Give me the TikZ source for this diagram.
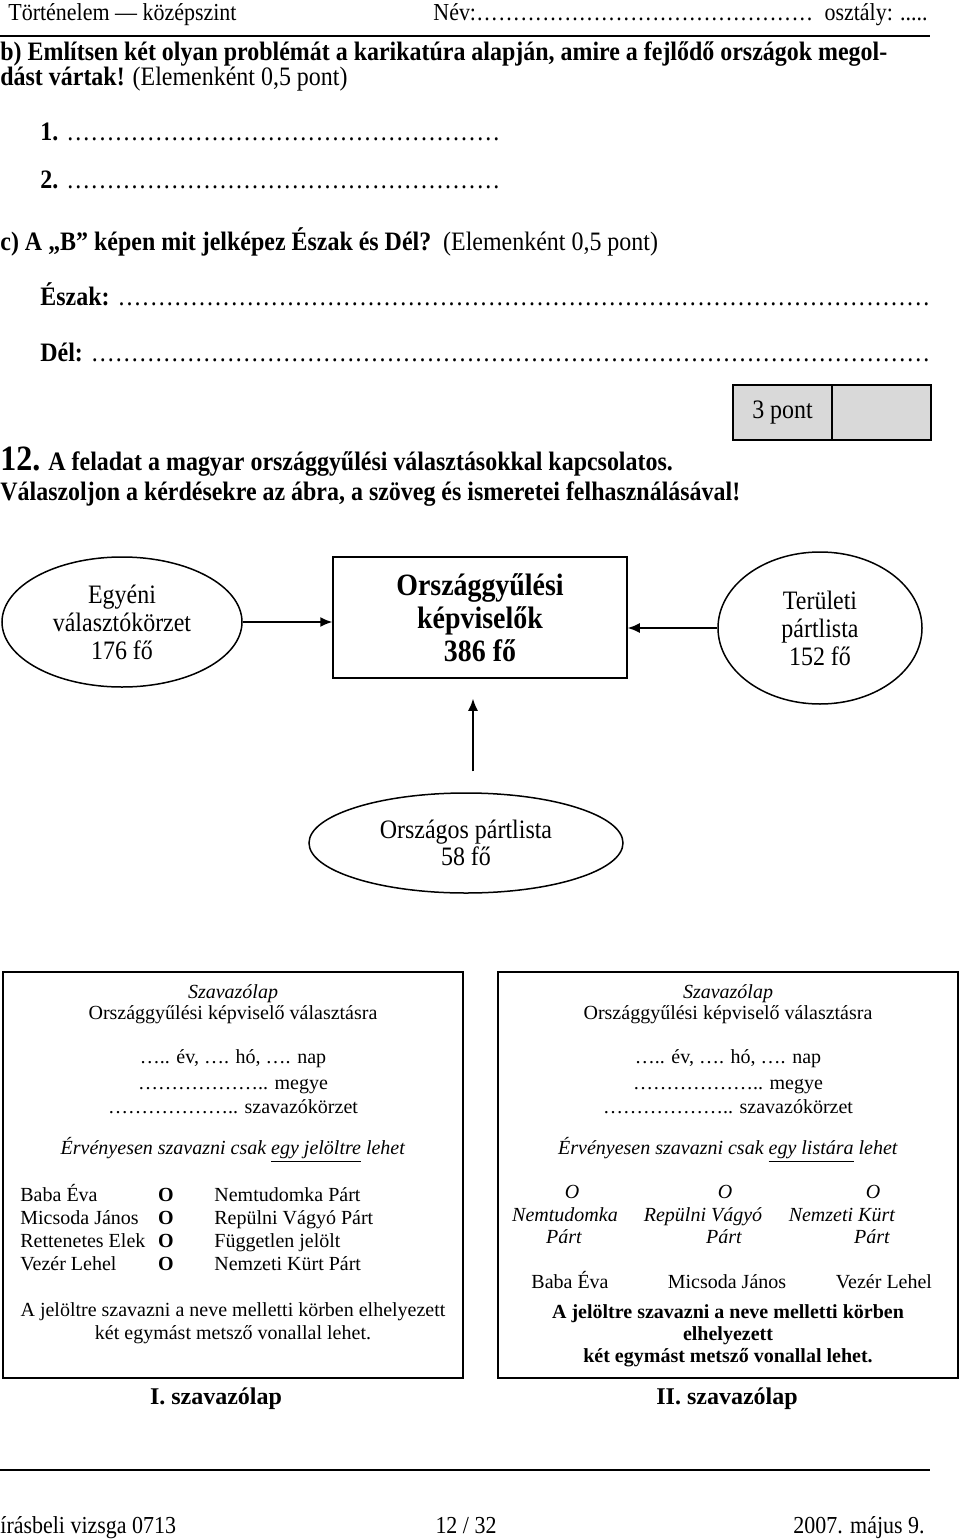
\documentclass[tikz,border=0pt]{standalone}
\usepackage{fontspec}
\setmainfont[FakeStretch=0.9]{Liberation Serif}
\newfontfamily\lapfont{Liberation Serif}
\usetikzlibrary{shapes.geometric,arrows.meta,positioning}
\definecolor{scoregray}{gray}{0.85}
\newcommand\dotline[2]{\hbox to #1{#2\xleaders\hbox to .3em{\hss.\hss}\hfill}}
\newcommand\lapbetu{\lapfont\fontsize{10}{12}\selectfont}
\tikzset{
	every oval/.style={
		ellipse,
		draw,
		line width=0.75pt,
		inner sep=0pt,
		align=center,
		font=\fontsize{13.3}{14}\selectfont
	},
	score cell/.style={
		draw,
		fill=scoregray,
		line width=0.75pt,
		minimum width=49.5pt,
		minimum height=27.5pt,
		inner sep=0pt,
		outer sep=0pt,
		font=\fontsize{13.3}{14}\selectfont
	},
	ballot frame/.style={
		draw,
		line width=1pt,
		minimum width=230pt,
		minimum height=203pt
	},
	task text/.style={anchor=base west, inner sep=0pt, font=\fontsize{13.3}{15}\selectfont},
	head text/.style={inner sep=0pt, font=\fontsize{12.2}{14}\selectfont},
	ballot text/.style={anchor=base, inner sep=0pt, font=\lapbetu},
}
\begin{document}
\begin{tikzpicture}[x=0.5pt, y=-0.5pt, >={Latex[length=6pt, width=5pt]}]

\useasboundingbox (0,0) rectangle (960,1540);

\node [head text, anchor=base west] (fej-1) at (8,21) {Történelem — középszint};
\node [head text, anchor=base west] (fej-2) at (433,21) {\dotline{190pt}{Név:}};
\node [head text, anchor=base east] (fej-3) at (928,21) {osztály: .....};
\draw [line width=1.25pt] (0,36) -- (930,36);

\node [task text] (b-1) at (0,61) {\textbf{b) Említsen két olyan problémát a karikatúra alapján, amire a fejlődő országok megol-}};
\node [task text] (b-2) at (0,86) {\textbf{dást vártak!} (Elemenként 0,5 pont)};
\foreach \n/\y in {1/141, 2/189}
	\node [task text] (valasz-\n) at (40,\y) {\dotline{230pt}{\textbf{\n.} }};
\node [task text] (c-1) at (0,251) {\textbf{c) A „B” képen mit jelképez Észak és Dél?}\ \ (Elemenként 0,5 pont)};
\foreach \s/\y [count=\i] in {Észak/306, Dél/361}
	\node [task text] (irany-\i) at (40,\y) {\dotline{445pt}{\textbf{\s:} }};

\node [score cell] (pont) at (782.5,412.5) {3 pont};
\node [score cell, right=0pt of pont] (pont-ures) {};

\node [task text] (f12-1) at (0,470) {\textbf{{\fontsize{17.8}{19}\selectfont 12.} A feladat a magyar országgyűlési választásokkal kapcsolatos.}};
\node [task text] (f12-2) at (0,500) {\textbf{Válaszoljon a kérdésekre az ábra, a szöveg és ismeretei felhasználásával!}};

\node [every oval, minimum width=120pt, minimum height=65pt] (egyeni) at (122,622) {Egyéni\\választókörzet\\176 fő};
\node [draw, line width=0.75pt, minimum width=147pt, minimum height=60.5pt, align=center,
	font=\fontsize{15.5}{16.5}\selectfont\bfseries] (kepviselo) at (480,617.5) {Országgyűlési\\képviselők\\386 fő};
\node [every oval, minimum width=102pt, minimum height=76pt] (teruleti) at (820,628) {Területi\\pártlista\\152 fő};
\node [every oval, minimum width=157pt, minimum height=50pt, font=\fontsize{13.3}{13.5}\selectfont] (orszagos) at (466,843) {Országos pártlista\\58 fő};

\draw [->, line width=0.75pt] (egyeni.east) -- (egyeni.east -| kepviselo.west);
\draw [->, line width=0.75pt] (teruleti.west) -- (teruleti.west -| kepviselo.east);
\draw [->, line width=0.75pt, shorten <=10.5pt, shorten >=10pt] ([xshift=3.5pt]orszagos.north) -- ([xshift=3.5pt]orszagos.north |- kepviselo.south);

\foreach \x/\hova [count=\i] in {233/jelöltre, 728/listára} {
	\node [ballot frame] (lap-\i) at (\x,1175) {};
	\node [ballot text] (szavazolap-\i) at (\x,998) {\textit{Szavazólap}};
	\node [ballot text] (valasztasra-\i) at (\x,1019) {Országgyűlési képviselő választásra};
	\node [ballot text] (datum-\i) at (\x,1063) {….. év, …. hó, …. nap};
	\node [ballot text] (megye-\i) at (\x,1089) {……………….. megye};
	\node [ballot text] (korzet-\i) at (\x,1113) {……………….. szavazókörzet};
	\node [ballot text] (ervenyes-\i) at (\x,1154) {\textit{Érvényesen szavazni csak \underline{egy \hova} lehet}};
}

\foreach \nev/\p [count=\j] in {Baba Éva/Nemtudomka Párt, Micsoda János/Repülni Vágyó Párt,
		Rettenetes Elek/Független jelölt, Vezér Lehel/Nemzeti Kürt Párt} {
	\node [ballot text, anchor=base west] (jelolt-\j) at (20,1178+23*\j) {\nev};
	\node [ballot text] (kor-\j) at (166,1178+23*\j) {\textbf{O}};
	\node [ballot text, anchor=base west] (part-\j) at (214,1178+23*\j) {\p};
}
\node [ballot text] (szabaly-1-1) at (233,1316) {A jelöltre szavazni a neve melletti körben elhelyezett};
\node [ballot text] (szabaly-1-2) at (233,1339) {két egymást metsző vonallal lehet.};

\foreach \o/\a/\pa/\c/\p/\nev [count=\j] in {572/565/564/570/Nemtudomka/Baba Éva,
		725/703/724/727/Repülni Vágyó/Micsoda János, 873/842/872/884/Nemzeti Kürt/Vezér Lehel} {
	\node [ballot text] (lista-kor-\j) at (\o,1198) {\textit{O}};
	\node [ballot text] (lista-\j) at (\a,1221) {\textit{\p}};
	\node [ballot text] (lista-part-\j) at (\pa,1243) {\textit{Párt}};
	\node [ballot text] (lista-jelolt-\j) at (\c,1288) {\nev};
}
\foreach \s/\y [count=\j] in {A jelöltre szavazni a neve melletti körben/1318, elhelyezett/1340,
		két egymást metsző vonallal lehet./1362}
	\node [ballot text, font=\lapbetu\bfseries] (szabaly-2-\j) at (728,\y) {\s};

\node [ballot text, font=\lapfont\fontsize{12}{14}\selectfont\bfseries] (cimke-1) at (216,1404) {I. szavazólap};
\node [ballot text, font=\lapfont\fontsize{12}{14}\selectfont\bfseries] (cimke-2) at (727,1404) {II. szavazólap};

\draw [line width=1.25pt] (0,1470) -- (930,1470);
\node [head text, anchor=base west] (lab-1) at (0,1533) {írásbeli vizsga 0713};
\node [head text, anchor=base] (lab-2) at (466,1533) {12 / 32};
\node [head text, anchor=base east] (lab-3) at (925,1533) {2007. május 9.};

\end{tikzpicture}
\end{document}
